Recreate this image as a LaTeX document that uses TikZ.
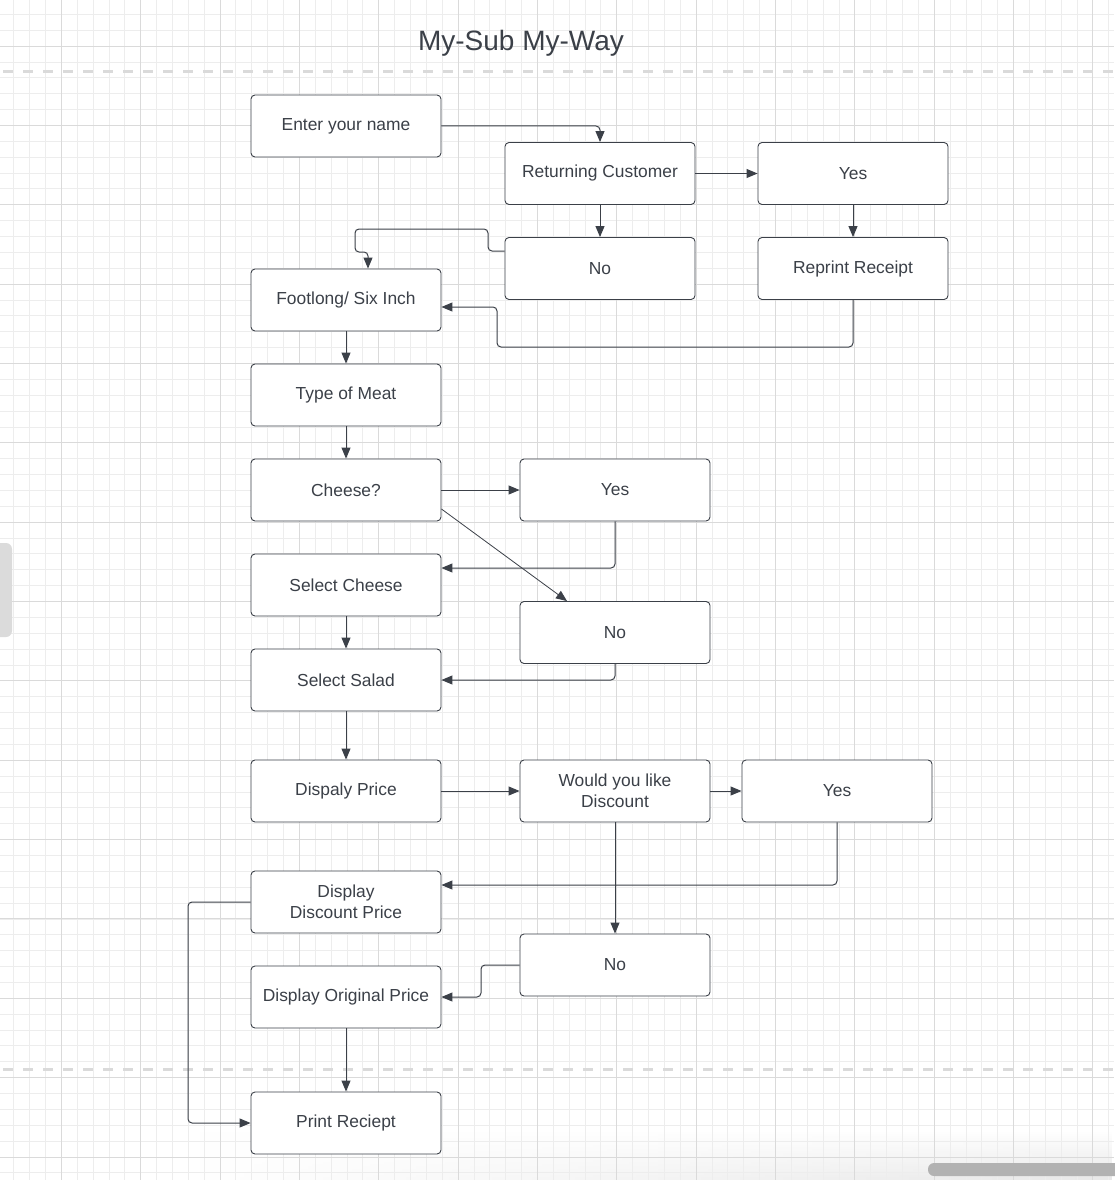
\documentclass[tikz,border=0pt]{standalone}
\usepackage{fontspec}
\setmainfont{Liberation Sans}
\usetikzlibrary{arrows.meta,fadings}
\definecolor{ink}{HTML}{3B4048}
\definecolor{gridmin}{HTML}{EDEDED}
\definecolor{gridmaj}{HTML}{DADADA}
\tikzset{box/.style={draw=ink,fill=white,rounded corners=4pt,minimum width=190pt,minimum height=62pt,
    inner sep=0pt,align=center,text=ink,line width=0.9pt,font=\fontsize{17.4}{21}\selectfont},
  link/.style={draw=ink,line width=1pt,rounded corners=4pt,->}}
\begin{document}
\begin{tikzpicture}[x=1pt,y=-1pt,>={Triangle[length=11pt,width=9pt]}]
\useasboundingbox (0,0) rectangle (1114,1180);
\fill[white] (0,0) rectangle (1114,1180);
\shade[top color=white,bottom color=black!9,path fading=west] (200,1130) rectangle (1114,1180);
\foreach \i in {0,...,69} \draw[gridmin,line width=0.8pt] (13.7+15.87*\i,0) -- ++(0,1180);
\foreach \i in {0,...,73} \draw[gridmin,line width=0.8pt] (0,14.3+15.87*\i) -- ++(1114,0);
\foreach \i in {0,...,13} \draw[gridmaj,line width=0.8pt] (61.3+79.35*\i,0) -- ++(0,1180);
\foreach \i in {0,...,14} \draw[gridmaj,line width=0.8pt] (0,46+79.35*\i) -- ++(1114,0);
\draw[gridmaj,line width=3pt,dash pattern=on 10pt off 10pt] (3,72) -- (1114,72);
\draw[gridmaj,line width=3pt,dash pattern=on 10pt off 10pt] (3,1069) -- (1114,1069);
\node[text=ink,font=\fontsize{28}{32}\selectfont] (title) at (521,43) {My-Sub My-Way};
\node[box] (name) at (346,126) {Enter your name};
\node[box] (ret) at (600,173.5) {Returning Customer};
\node[box] (yesA) at (853,173.5) {Yes};
\node[box] (noA) at (600,268.5) {No};
\node[box] (reprint) at (853,268.5) {Reprint Receipt};
\node[box] (size) at (346,300) {Footlong/ Six Inch};
\node[box] (meat) at (346,395) {Type of Meat};
\node[box] (cheese) at (346,490) {Cheese?};
\node[box] (yesB) at (615,490) {Yes};
\node[box] (selcheese) at (346,585) {Select Cheese};
\node[box] (noB) at (615,632.5) {No};
\node[box] (salad) at (346,680) {Select Salad};
\node[box] (price) at (346,791) {Dispaly Price};
\node[box] (ask) at (615,791) {Would you like\\Discount};
\node[box] (yesC) at (837,791) {Yes};
\node[box] (discount) at (346,902) {Display\\Discount Price};
\node[box] (noC) at (615,965) {No};
\node[box] (original) at (346,997) {Display Original Price};
\node[box] (receipt) at (346,1123) {Print Reciept};
\draw[link] (name.east) -| (ret.north);
\draw[link] (ret) -- (yesA);
\draw[link] (ret) -- (noA);
\draw[link] (yesA) -- (reprint);
\draw[link] (noA.west |- 0,251) -- (488,251) -- (488,229) -- (355,229) -- (355,252) -- (368,252) -- (size.north -| 368,0);
\draw[link] (reprint.south) -- (853,347) -- (497,347) -- (497,307) -- (size.east |- 0,307);
\draw[link] (size) -- (meat);
\draw[link] (meat) -- (cheese);
\draw[link] (cheese) -- (yesB);
\draw[link,line width=0.8pt] (cheese.east |- 0,509) -- (noB.north -| 567,0);
\draw[link] (yesB.south) |- (selcheese.east |- 0,568);
\draw[link] (selcheese) -- (salad);
\draw[link] (noB.south) |- (salad.east);
\draw[link] (salad) -- (price);
\draw[link] (price) -- (ask);
\draw[link] (ask) -- (yesC);
\draw[link] (yesC.south) |- (discount.east |- 0,885);
\draw[link] (ask) -- (noC);
\draw[link] (noC.west) -- (481,965) -- (481,997) -- (original.east);
\draw[link] (original) -- (receipt);
\draw[link] (discount.west) -- (188,902) |- (receipt.west);
\fill[black!14,rounded corners=6pt] (-10,543) rectangle (12,637);
\fill[black!30,rounded corners=6pt] (928,1163) rectangle (1124,1176);
\end{tikzpicture}
\end{document}
